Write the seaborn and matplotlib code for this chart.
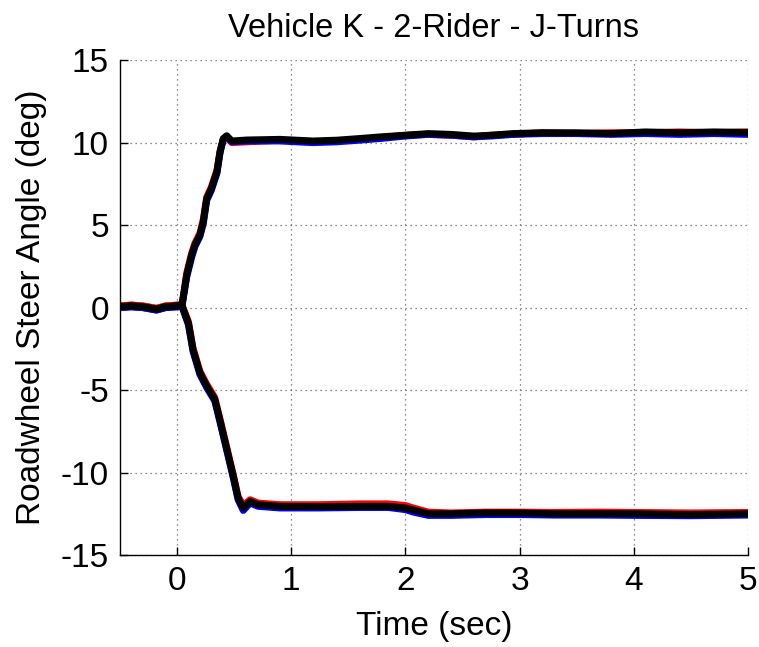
import numpy as np
import matplotlib
matplotlib.use("Agg")
import matplotlib.pyplot as plt
import seaborn as sns

# time grids (sec)
t_up = [-0.5, -0.4, -0.3, -0.18, -0.1, 0.0, 0.044, 0.085, 0.128, 0.157, 0.2, 0.23, 0.26, 0.30,
        0.35, 0.377, 0.405, 0.435, 0.48, 0.61, 0.9, 1.19, 1.4, 1.6, 1.78, 2.0, 2.2, 2.4, 2.6,
        2.75, 2.94, 3.2, 3.5, 3.8, 4.1, 4.4, 4.7, 5.0]
t_lo = [-0.5, -0.4, -0.3, -0.18, -0.1, 0.0, 0.044, 0.1, 0.14, 0.2, 0.26, 0.33, 0.38, 0.435,
        0.49, 0.535, 0.58, 0.64, 0.71, 0.9, 1.25, 1.6, 1.85, 2.0, 2.07, 2.2, 2.4, 2.7, 3.0,
        3.3, 3.7, 4.0, 4.5, 5.0]

# left turns (positive steer), three runs
up_black = [0.05, 0.1, 0.05, -0.1, 0.05, 0.1, 0.16, 1.97, 3.18, 3.8, 4.4, 5.2, 6.6, 7.2,
            8.25, 9.45, 10.25, 10.42, 10.1, 10.16, 10.2, 10.1, 10.15, 10.25, 10.35, 10.45, 10.55,
            10.5, 10.4, 10.45, 10.55, 10.6, 10.6, 10.55, 10.65, 10.6, 10.65, 10.62]
up_red = [0.1, 0.15, 0.1, -0.05, 0.1, 0.15, 0.2, 2.1, 3.3, 3.9, 4.5, 5.35, 6.7, 7.3,
          8.35, 9.5, 10.2, 10.3, 10.0, 10.05, 10.15, 10.05, 10.1, 10.2, 10.3, 10.45, 10.5,
          10.45, 10.35, 10.45, 10.5, 10.6, 10.55, 10.6, 10.6, 10.65, 10.6, 10.65]
up_blue = [0.0, 0.05, 0.0, -0.15, 0.0, 0.05, 0.12, 1.85, 3.05, 3.7, 4.3, 5.1, 6.5, 7.1,
           8.15, 9.4, 10.2, 10.35, 10.05, 10.1, 10.1, 10.0, 10.05, 10.15, 10.25, 10.4, 10.5,
           10.45, 10.35, 10.4, 10.5, 10.55, 10.55, 10.5, 10.55, 10.5, 10.55, 10.5]

# right turns (negative steer), three runs
lo_black = [0.05, 0.1, 0.05, -0.1, 0.05, 0.1, 0.1, -0.95, -2.55, -3.95, -4.75, -5.55, -6.95,
            -8.55, -10.15, -11.55, -12.15, -11.75, -11.95, -12.05, -12.07, -12.05, -12.05,
            -12.15, -12.27, -12.5, -12.5, -12.45, -12.45, -12.5, -12.5, -12.5, -12.55, -12.5]
lo_red = [0.1, 0.15, 0.1, -0.05, 0.1, 0.15, 0.15, -0.85, -2.45, -3.85, -4.65, -5.45, -6.85,
          -8.45, -10.05, -11.45, -12.0, -11.65, -11.85, -11.95, -11.95, -11.9, -11.9,
          -12.0, -12.15, -12.4, -12.45, -12.4, -12.4, -12.42, -12.4, -12.42, -12.45, -12.42]
lo_blue = [0.0, 0.05, 0.0, -0.15, 0.0, 0.05, 0.05, -1.05, -2.65, -4.05, -4.85, -5.65, -7.05,
           -8.65, -10.25, -11.65, -12.3, -11.85, -12.05, -12.15, -12.15, -12.12, -12.12,
           -12.25, -12.4, -12.6, -12.6, -12.55, -12.55, -12.58, -12.58, -12.6, -12.62, -12.58]

x_ticks = [0, 1, 2, 3, 4, 5]
y_ticks = [-15, -10, -5, 0, 5, 10, 15]

sns.set_style("white")
plt.rcParams['font.family'] = ['Liberation Sans', 'DejaVu Sans']
plt.rcParams['axes.unicode_minus'] = False
plt.rcParams['text.color'] = 'black'
plt.rcParams['axes.labelcolor'] = 'black'

fig = plt.figure(figsize=(7.59, 6.47), dpi=100)
ax = fig.add_axes([0.158, 0.1422, 0.8275, 0.7648])

for t, vals, col in [(t_up, up_red, 'red'), (t_lo, lo_red, 'red'),
                     (t_up, up_blue, 'blue'), (t_lo, lo_blue, 'blue'),
                     (t_up, up_black, 'black'), (t_lo, lo_black, 'black')]:
    sns.lineplot(x=t, y=vals, color=col, linewidth=5, sort=False, ax=ax)

ax.set_xlim(-0.5, 5)
ax.set_ylim(-15, 15)
ax.set_xticks(x_ticks)
ax.set_yticks(y_ticks)
ax.grid(True, color='0.4', linestyle=(0, (1, 3)), linewidth=0.9)
ax.set_axisbelow(True)

for s in ['top', 'right']:
    ax.spines[s].set_visible(False)
for s in ['left', 'bottom']:
    ax.spines[s].set_color('black')
    ax.spines[s].set_linewidth(1)

ax.tick_params(direction='in', length=6, width=1, labelsize=24, pad=8, colors='black',
               left=True, bottom=True)

ax.set_title('Vehicle K - 2-Rider - J-Turns', fontsize=23.5, pad=17, color='black')
ax.set_xlabel('Time (sec)', fontsize=24, labelpad=10)
ax.set_ylabel('Roadwheel Steer Angle (deg)', fontsize=24, labelpad=10)

fig.savefig('out.png', dpi=100)
